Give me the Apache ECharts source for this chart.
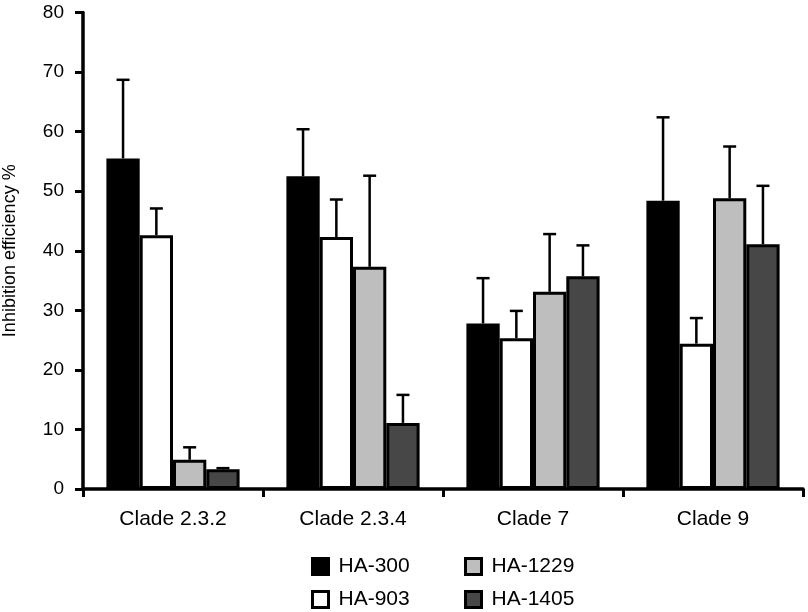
<!DOCTYPE html>
<html>
<head>
<meta charset="utf-8">
<script src="https://cdn.jsdelivr.net/npm/echarts@6/dist/echarts.min.js"></script>
<style>html,body{margin:0;padding:0;background:#fff;}#c{width:808px;height:612px;}</style>
</head>
<body>
<div id="c"></div>
<script>
const categories = ['Clade 2.3.2', 'Clade 2.3.4', 'Clade 7', 'Clade 9'];
const seriesNames = ['HA-300', 'HA-903', 'HA-1229', 'HA-1405'];
const ha300 = [55.5, 52.5, 27.8, 48.4];
const ha300Err = [68.7, 60.4, 35.4, 62.4];
const ha903 = [42.6, 42.3, 25.3, 24.4];
const ha903Err = [47.1, 48.6, 29.9, 28.7];
const ha1229 = [4.9, 37.3, 33.1, 48.8];
const ha1229Err = [7.0, 52.6, 42.8, 57.5];
const ha1405 = [3.3, 11.1, 35.7, 41.1];
const ha1405Err = [3.5, 15.8, 40.9, 50.9];
const yTicks = [0, 10, 20, 30, 40, 50, 60, 70, 80];

const means = [ha300, ha903, ha1229, ha1405];
const errs = [ha300Err, ha903Err, ha1229Err, ha1405Err];
const colors = ['#000000', '#ffffff', '#bebebe', '#474747'];
const catGap = 0.26;
const FONT = 'Liberation Sans, Arial, Helvetica, sans-serif';

const chart = echarts.init(document.getElementById('c'));
const series = [];
seriesNames.forEach((name, i) => {
  series.push({
    name: name,
    type: 'bar',
    data: means[i],
    barGap: '0%',
    barCategoryGap: (catGap * 100) + '%',
    itemStyle: { color: colors[i], borderColor: '#000', borderWidth: 3 },
    z: 2
  });
});
seriesNames.forEach((name, i) => {
  series.push({
    type: 'custom',
    z: 3,
    silent: true,
    data: categories.map((c, k) => [k, errs[i][k], means[i][k]]),
    renderItem: function (params, api) {
      const k = api.value(0);
      const band = api.size([1, 0])[0];
      const bw = band * (1 - catGap) / 4;
      const cx = api.coord([k, 0])[0] + (i - 1.5) * bw;
      const yTop = api.coord([k, api.value(1)])[1];
      const yMean = api.coord([k, api.value(2)])[1];
      const style = { stroke: '#000', lineWidth: 2.5 };
      return {
        type: 'group',
        children: [
          { type: 'line', shape: { x1: cx, y1: yMean, x2: cx, y2: yTop }, style: style },
          { type: 'line', shape: { x1: cx - 6.5, y1: yTop, x2: cx + 6.5, y2: yTop }, style: style }
        ]
      };
    }
  });
});

const legendPos = [[311, 556], [311, 589], [464, 556], [464, 589]];
const legends = seriesNames.map((name, i) => ({
  data: [name],
  left: legendPos[i][0],
  top: legendPos[i][1],
  padding: 0,
  itemWidth: 16,
  itemHeight: 16,
  icon: 'rect',
  textStyle: { fontFamily: FONT, fontSize: 21, color: '#000', padding: [0, 0, 0, 5] },
  itemStyle: { borderColor: '#000', borderWidth: 3 },
  selectedMode: false
}));

chart.setOption({
  animation: false,
  backgroundColor: '#fff',
  grid: { left: 83, right: 5, top: 12.5, bottom: 123, containLabel: false, outerBoundsMode: 'none' },
  xAxis: {
    type: 'category',
    data: categories,
    axisLine: { lineStyle: { color: '#000', width: 3.5 } },
    axisTick: { show: true, length: 8, lineStyle: { color: '#000', width: 3 } },
    axisLabel: { fontFamily: FONT, fontSize: 21, color: '#000', margin: 20 },
    splitLine: { show: false }
  },
  yAxis: {
    type: 'value',
    min: 0,
    max: 80,
    interval: 10,
    name: 'Inhibition efficiency %',
    nameLocation: 'middle',
    nameGap: 64,
    nameTextStyle: { fontFamily: FONT, fontSize: 18, color: '#000' },
    axisLine: { show: true, lineStyle: { color: '#000', width: 3.5 } },
    axisTick: { show: true, length: 8, lineStyle: { color: '#000', width: 3 } },
    axisLabel: {
      fontFamily: FONT, fontSize: 19, color: '#000', margin: 19,
      formatter: v => (yTicks.indexOf(v) >= 0 ? String(v) : '')
    },
    splitLine: { show: false }
  },
  legend: legends,
  series: series
});
</script>
</body>
</html>
